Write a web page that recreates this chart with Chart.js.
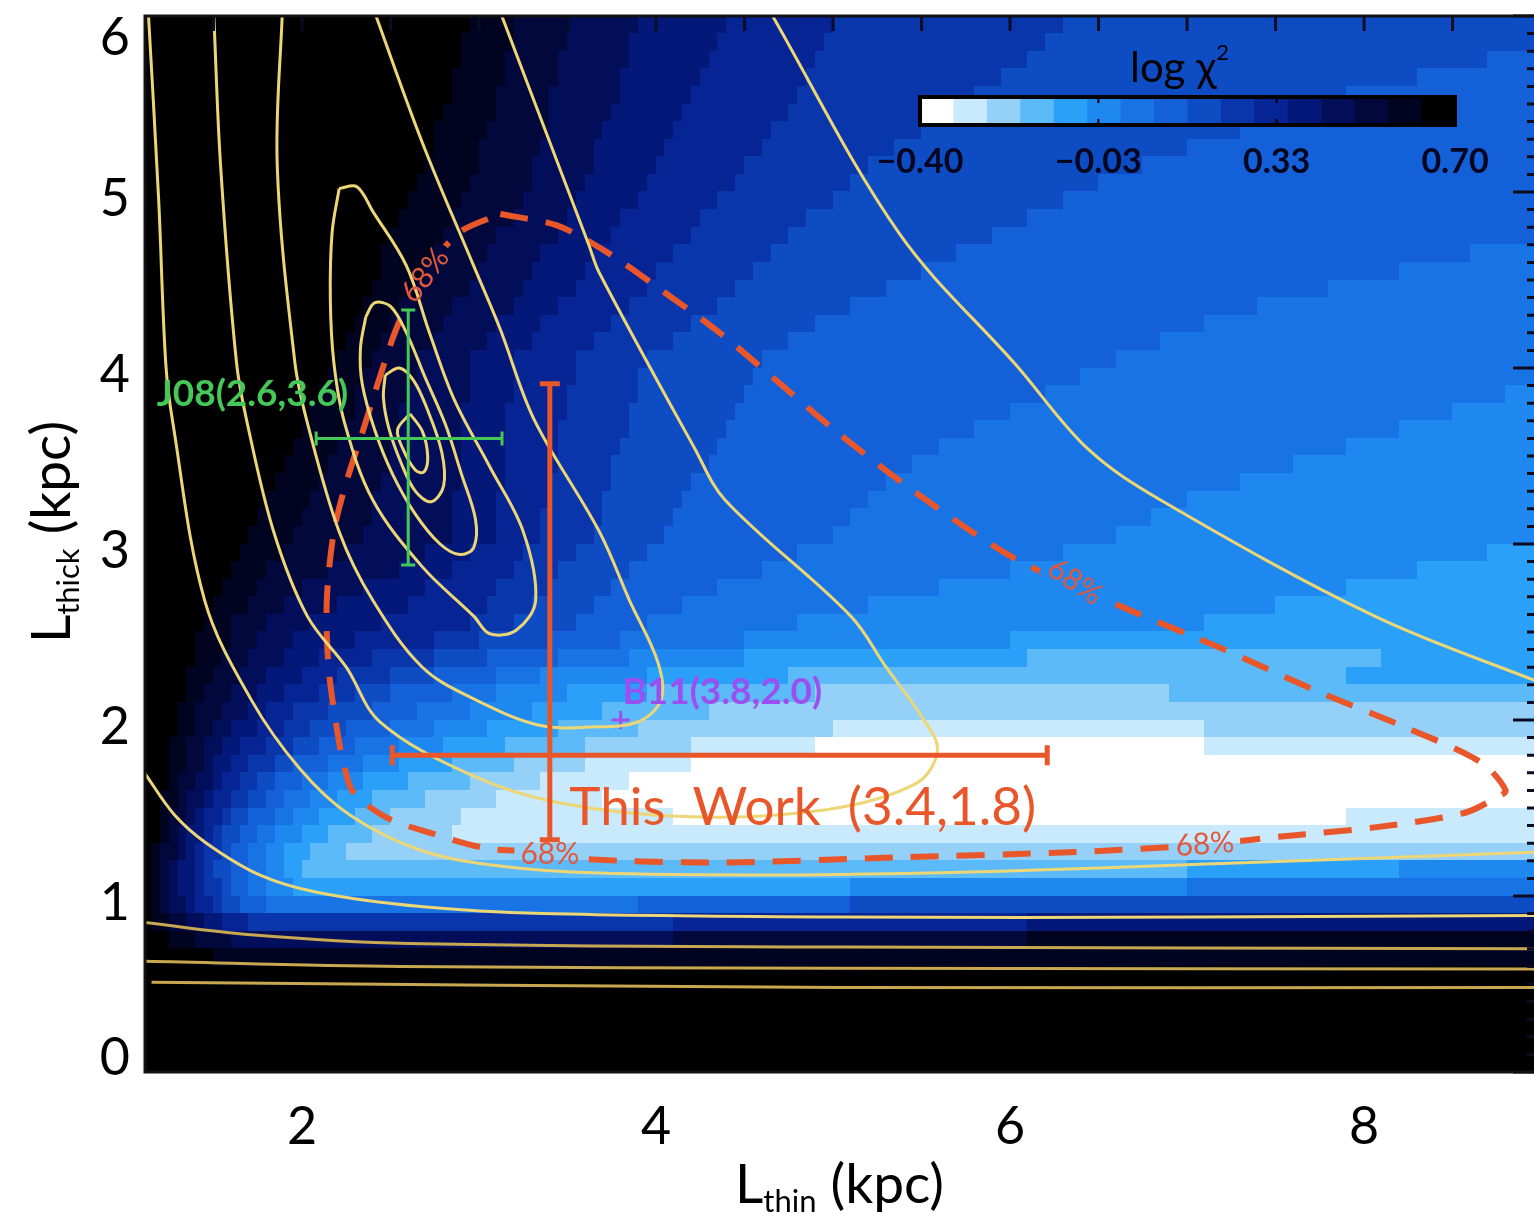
<!DOCTYPE html>
<html lang="en">
<head>
<meta charset="utf-8">
<title>log chi2 map: L_thin vs L_thick</title>
<script src="https://cdn.jsdelivr.net/npm/chart.js@4.4.1/dist/chart.umd.min.js"></script>
<style>
  html, body { margin: 0; padding: 0; background: #fff; overflow: hidden; }
  canvas { display: block; }
</style>
</head>
<body>
<canvas id="chi2" width="1534" height="1216"></canvas>
<script>
/* ── Axes ── */
const X_MIN = 1.113, X_MAX = 8.96;
const Y_MIN = 0, Y_MAX = 6;
const xTickVals = [2, 4, 6, 8];
const yTickVals = [0, 1, 2, 3, 4, 5, 6];

/* ── Colour bar: 16 bins of log chi^2 from -0.40 (white) to 0.70 (black) ── */
const cbTicks  = ['\u22120.40', '\u22120.03', '0.33', '0.70'];
const cbColors = ['#ffffff', '#c8eafc', '#94d0f8', '#5cbaf8', '#2aa0f8', '#1e88f0', '#1874e4', '#1460d8',
                  '#0e4cc4', '#0a36ac', '#062494', '#04187a', '#030e5a', '#02083c', '#010420', '#000000'];

/* ── log chi^2 map.
      One row per 0.1 kpc of L_thick, from 6.0 down to 0.
      Each token is "bin:L_thin where that colour-bar bin (hex 0..f) ends". ── */
const gridTop = 6.0, gridDY = 0.1, gridX0 = 1.1, gridX1 = 9.1, cellDX = 0.05;
const chiRows = [
  'f:2.95 e:3.2 d:3.5 c:3.9 b:4.4 a:5.0 9:6.3 8:9.1',                  // 5.95
  'f:2.92 e:3.18 d:3.48 c:3.87 b:4.35 a:4.95 9:6.2 8:9.1',
  'f:2.89 e:3.16 d:3.46 c:3.84 b:4.3 a:4.9 9:6.1 8:8.7 7:9.1',
  'f:2.86 e:3.14 d:3.44 c:3.81 b:4.26 a:4.85 9:5.95 8:8.3 7:9.1',
  'f:2.83 e:3.11 d:3.42 c:3.78 b:4.21 a:4.8 9:5.8 8:7.9 7:9.1',
  'f:2.8 e:3.08 d:3.4 c:3.74 b:4.16 a:4.73 9:5.65 8:7.6 7:9.1',
  'f:2.77 e:3.05 d:3.38 c:3.7 b:4.11 a:4.66 9:5.5 8:7.3 7:9.1',
  'f:2.73 e:3.02 d:3.35 c:3.66 b:4.06 a:4.59 9:5.35 8:7.0 7:9.1',
  'f:2.69 e:2.99 d:3.32 c:3.63 b:4.0 a:4.52 9:5.22 8:6.75 7:9.1',
  'f:2.65 e:2.95 d:3.3 c:3.6 b:3.95 a:4.45 9:5.1 8:6.5 7:9.1',        // 5.05
  'f:2.6 e:2.9 d:3.24 c:3.54 b:3.88 a:4.36 9:4.98 8:6.3 7:9.1',
  'f:2.56 e:2.85 d:3.18 c:3.48 b:3.81 a:4.27 9:4.87 8:6.1 7:9.1',
  'f:2.52 e:2.79 d:3.12 c:3.43 b:3.74 a:4.19 9:4.76 8:5.9 7:9.1',
  'f:2.47 e:2.74 d:3.06 c:3.37 b:3.67 a:4.11 9:4.65 8:5.7 7:8.6 6:9.1',
  'f:2.43 e:2.68 d:3.0 c:3.31 b:3.6 a:4.02 9:4.54 8:5.5 7:8.2 6:9.1',
  'f:2.38 e:2.63 d:2.94 c:3.25 b:3.53 a:3.93 9:4.44 8:5.3 7:7.8 6:9.1',
  'f:2.34 e:2.57 d:2.87 c:3.19 b:3.45 a:3.84 9:4.33 8:5.1 7:7.4 6:9.1',
  'f:2.29 e:2.51 d:2.8 c:3.12 b:3.37 a:3.74 9:4.2 8:4.9 7:7.1 6:9.1',
  'f:2.25 e:2.46 d:2.73 c:3.04 b:3.29 a:3.65 9:4.08 8:4.75 7:6.85 6:9.1',
  'f:2.2 e:2.4 d:2.65 c:2.95 b:3.2 a:3.55 9:3.95 8:4.6 7:6.6 6:9.1',  // 4.05
  'f:2.15 e:2.36 d:2.63 c:2.94 b:3.19 a:3.53 9:3.92 8:4.55 7:6.4 6:9.1',
  'f:2.1 e:2.32 d:2.6 c:2.93 b:3.18 a:3.51 9:3.89 8:4.5 7:6.2 6:8.8 5:9.1',
  'f:2.05 e:2.28 d:2.57 c:2.92 b:3.17 a:3.49 9:3.86 8:4.45 7:6.0 6:8.5 5:9.1',
  'f:2.0 e:2.24 d:2.54 c:2.91 b:3.16 a:3.47 9:3.83 8:4.4 7:5.8 6:8.2 5:9.1',
  'f:1.95 e:2.2 d:2.51 c:2.9 b:3.15 a:3.45 9:3.8 8:4.35 7:5.6 6:7.9 5:9.1',
  'f:1.9 e:2.15 d:2.48 c:2.89 b:3.14 a:3.43 9:3.77 8:4.3 7:5.45 6:7.6 5:9.1',
  'f:1.85 e:2.1 d:2.45 c:2.88 b:3.13 a:3.41 9:3.74 8:4.22 7:5.3 6:7.3 5:9.1',
  'f:1.8 e:2.05 d:2.42 c:2.87 b:3.12 a:3.39 9:3.71 8:4.15 7:5.2 6:7.0 5:9.1',
  'f:1.75 e:2.0 d:2.38 c:2.86 b:3.11 a:3.37 9:3.68 8:4.1 7:5.1 6:6.8 5:9.1',
  'f:1.7 e:1.95 d:2.35 c:2.85 b:3.1 a:3.35 9:3.65 8:4.05 7:5.0 6:6.6 5:9.1',   // 3.05
  'f:1.65 e:1.88 d:2.24 c:2.69 b:2.97 a:3.27 9:3.56 8:3.95 7:4.8 6:6.3 5:8.7 4:9.1',
  'f:1.6 e:1.81 d:2.13 c:2.53 b:2.84 a:3.19 9:3.47 8:3.85 7:4.6 6:6.0 5:8.3 4:9.1',
  'f:1.55 e:1.75 d:2.02 c:2.37 b:2.71 a:3.11 9:3.38 8:3.75 7:4.35 6:5.6 5:7.9 4:9.1',
  'f:1.5 e:1.68 d:1.91 c:2.21 b:2.58 a:3.03 9:3.29 8:3.65 7:4.15 6:5.2 5:7.5 4:9.1',
  'f:1.45 e:1.62 d:1.8 c:2.05 b:2.45 a:2.95 9:3.2 8:3.55 7:3.95 6:4.8 5:7.1 4:9.1',
  'f:1.42 e:1.58 d:1.75 c:1.97 b:2.32 a:2.75 9:3.02 8:3.38 7:3.78 6:4.5 5:6.0 4:9.1',
  'f:1.39 e:1.54 d:1.7 c:1.88 b:2.12 a:2.42 9:2.76 8:3.05 7:3.45 6:3.85 5:4.5 4:6.1 3:8.1 4:9.1',
  'f:1.36 e:1.5 d:1.65 c:1.81 b:2.0 a:2.22 9:2.5 8:2.75 7:3.1 6:3.35 5:3.95 4:4.75 3:7.9 4:9.1',
  'f:1.33 e:1.46 d:1.6 c:1.75 b:1.9 a:2.08 9:2.3 8:2.52 7:2.85 6:3.1 5:3.5 4:3.95 3:4.9 2:6.9 3:9.1',
  'f:1.3 e:1.42 d:1.55 c:1.68 b:1.82 a:1.97 9:2.15 8:2.38 7:2.65 6:2.95 5:3.3 4:3.7 3:4.3 2:9.1', // 2.05
  'f:1.28 e:1.39 d:1.5 c:1.62 b:1.74 a:1.88 9:2.04 8:2.24 7:2.48 6:2.75 5:3.05 4:3.45 3:3.9 2:5.0 1:7.1 2:9.1',
  'f:1.26 e:1.36 d:1.46 c:1.56 b:1.67 a:1.79 9:1.93 8:2.1 7:2.3 6:2.55 5:2.82 4:3.15 3:3.6 2:4.2 1:4.9 0:7.1 1:9.1',
  'f:1.25 e:1.34 d:1.43 c:1.52 b:1.61 a:1.71 9:1.83 8:1.97 7:2.13 6:2.33 5:2.55 4:2.85 3:3.2 2:3.6 1:4.2 0:9.1',
  'f:1.24 e:1.32 d:1.4 c:1.48 b:1.56 a:1.65 9:1.75 8:1.87 7:2.0 6:2.17 5:2.37 4:2.6 3:2.95 2:3.35 1:3.85 0:9.1',
  'f:1.22 e:1.3 d:1.37 c:1.44 b:1.51 a:1.59 9:1.68 8:1.78 7:1.9 6:2.04 5:2.22 4:2.42 3:2.72 2:3.1 1:3.7 0:9.1',
  'f:1.2 e:1.27 d:1.33 c:1.4 b:1.47 a:1.54 9:1.62 8:1.72 7:1.83 6:1.96 5:2.11 4:2.28 3:2.52 2:2.9 1:4.1 0:7.9 1:9.1',
  'f:1.18 e:1.24 d:1.3 c:1.36 b:1.43 a:1.5 9:1.57 8:1.65 7:1.75 6:1.87 5:2.0 4:2.17 3:2.4 2:2.85 1:9.1',
  'f:1.16 e:1.22 d:1.28 c:1.34 b:1.4 a:1.46 9:1.53 8:1.6 7:1.69 6:1.79 5:1.9 4:2.04 3:2.25 2:9.1',
  'f:1.14 e:1.2 d:1.26 c:1.32 b:1.38 a:1.45 9:1.52 8:1.6 7:1.68 6:1.78 5:1.88 4:2.0 3:7.0 4:8.2 5:9.1',
  'f:1.14 e:1.2 d:1.26 c:1.32 b:1.38 a:1.45 9:1.53 8:1.6 7:1.7 6:1.82 5:1.95 4:5.1 5:7.0 6:9.1', // 1.05
  'f:1.14 e:1.2 d:1.26 c:1.33 b:1.4 a:1.48 9:1.56 8:1.66 7:1.78 6:3.9 7:5.1 8:9.1',
  'f:1.16 e:1.25 d:1.35 c:1.45 b:1.55 a:1.7 9:4.1 a:6.1 b:9.1',
  'f:1.25 e:1.4 d:1.6 c:4.1 d:6.1 e:9.1',
  'f:1.5 e:9.1',
  'f:9.1', 'f:9.1', 'f:9.1', 'f:9.1', 'f:9.1', 'f:9.1',
];

/* ── chi^2 contours (L_thin, L_thick) ── */
const contour1 = [[2.61,3.74],[2.68,3.64],[2.71,3.50],[2.69,3.41],[2.64,3.42],[2.57,3.54],[2.54,3.65],[2.61,3.74]];
const contour2 = [[2.47,3.96],[2.55,4.00],[2.63,3.93],[2.71,3.76],[2.79,3.52],[2.80,3.33],[2.73,3.24],[2.64,3.30],
                  [2.56,3.46],[2.49,3.66],[2.46,3.83],[2.47,3.96]];
const contour3 = [[2.36,4.29],[2.41,4.37],[2.50,4.35],[2.59,4.20],[2.69,3.96],[2.81,3.68],[2.90,3.40],[2.98,3.14],
                  [2.97,2.98],[2.89,2.94],[2.78,3.00],[2.64,3.17],[2.51,3.40],[2.41,3.65],[2.34,3.91],[2.33,4.11],[2.36,4.29]];
const contour4 = [[2.21,5.02],[2.31,5.03],[2.40,4.89],[2.59,4.58],[2.72,4.20],[2.86,3.82],[3.06,3.44],[3.25,3.07],
                  [3.32,2.68],[3.21,2.51],[3.06,2.49],[2.97,2.59],[2.68,2.87],[2.40,3.25],[2.24,3.69],[2.18,4.03],
                  [2.16,4.39],[2.17,4.77],[2.21,5.02]];
const contour5 = [[1.89,6.05],[1.86,5.15],[1.96,4.03],[2.03,3.69],[2.21,3.07],[2.40,2.68],[2.68,2.30],[2.97,2.12],
                  [3.34,1.97],[3.62,1.96],[3.90,1.99],[4.03,2.12],[4.01,2.33],[3.85,2.68],[3.68,3.07],[3.31,3.71],
                  [3.12,4.22],[2.97,4.58],[2.68,5.28],[2.40,6.05]];
const contour6 = [[1.50,6.05],[1.54,5.15],[1.63,4.03],[1.69,3.69],[1.84,3.07],[2.03,2.59],[2.25,2.30],[2.44,1.99],
                  [2.95,1.69],[3.45,1.53],[4.20,1.45],[4.96,1.49],[5.47,1.64],[5.59,1.83],[5.50,2.02],[5.30,2.30],
                  [5.10,2.59],[4.39,3.25],[4.22,3.54],[3.68,4.54],[3.62,4.70],[3.11,6.05]];
const contour7a = [[1.13,6.05],[1.19,4.96],[1.23,4.03],[1.27,3.69],[1.45,2.68],[1.71,2.12],[1.99,1.72],[2.27,1.46],
                   [2.67,1.26],[3.12,1.17],[3.68,1.13],[4.81,1.12],[5.94,1.14],[7.07,1.18],[9.00,1.25]];
const contour7b = [[4.63,6.05],[5.37,4.77],[6.04,4.01],[6.44,3.54],[6.85,3.25],[8.06,2.59],[9.00,2.21]];
const contour8  = [[1.11,1.70],[1.28,1.46],[1.46,1.30],[1.76,1.12],[2.09,1.02],[2.67,0.94],[3.36,0.90],[5.04,0.88],
                   [7.07,0.88],[9.00,0.89]];
const contour9  = [[1.11,0.85],[1.71,0.78],[2.60,0.73],[5.04,0.71],[9.00,0.70]];
const contour10 = [[1.11,0.63],[2.55,0.60],[5.04,0.59],[9.00,0.585]];
const contour11 = [[1.15,0.51],[5.04,0.48],[9.00,0.48]];

/* ── 68% confidence region of this work ── */
const conf68 = [[3.12,4.875],[3.44,4.81],[3.72,4.66],[4.02,4.45],[4.36,4.20],[4.69,3.92],[5.03,3.63],[5.47,3.29],
                [6.04,2.91],[6.71,2.61],[7.21,2.40],[7.72,2.17],[8.23,1.96],[8.66,1.76],[8.80,1.60],[8.75,1.56],
                [8.56,1.47],[8.06,1.39],[7.55,1.34],[7.08,1.29],[6.37,1.25],[5.37,1.22],[4.36,1.19],[3.60,1.21],
                [3.38,1.25],[3.05,1.27],[2.72,1.36],[2.47,1.45],[2.29,1.59],[2.24,1.73],[2.20,1.93],[2.15,2.30],
                [2.14,2.68],[2.18,3.07],[2.25,3.35],[2.34,3.63],[2.44,3.95],[2.54,4.24],[2.68,4.52],[2.89,4.77],[3.12,4.875]];
const conf68Labels = [[2.69, 4.53, -53], [6.37, 2.79, 34], [3.40, 1.245, 0], [7.10, 1.30, -4]];

/* ── literature values: [x, y, xlo, xhi, ylo, yhi] ── */
const j08      = [2.6, 3.6, 2.08, 3.13, 2.88, 4.33];
const thisWork = [3.4, 1.8, 2.51, 6.21, 1.32, 3.91];
const b11      = [3.8, 2.0];

/* ── Style ── */
const FONT   = "Lato, 'Open Sans', 'DejaVu Sans', sans-serif";
const YELLOW = '#ecd676';
const GOLD   = '#c8a850';
const RED    = '#e8562a';
const GREEN  = '#46c858';
const PURPLE = '#9c4ff0';

Chart.defaults.font.family = FONT;

const pts = arr => arr.map(([x, y]) => ({ x, y }));
const contourSet = (arr, color) => ({
  data: pts(arr), showLine: true, borderColor: color, borderWidth: 3,
  pointRadius: 0, tension: 0.35, fill: false,
});

function decodeRow(s) {
  return s.trim().split(/\s+/).map(tok => {
    const [lv, end] = tok.split(':');
    return [parseInt(lv, 16), parseFloat(end)];
  });
}
function binAt(runs, xc) {
  for (const [lv, end] of runs) if (xc < end) return lv;
  return runs[runs.length - 1][0];
}

/* ── heat map under the contours ── */
const mapLayer = {
  id: 'mapLayer',
  beforeDatasetsDraw(chart) {
    const { ctx, chartArea: a, scales: { x, y } } = chart;
    const nCol = Math.round((gridX1 - gridX0) / cellDX);
    ctx.save();
    ctx.beginPath(); ctx.rect(a.left, a.top, a.width, a.height); ctx.clip();
    chiRows.forEach((row, r) => {
      const runs = decodeRow(row);
      const y0 = Math.floor(y.getPixelForValue(gridTop - r * gridDY));
      const y1 = Math.ceil(y.getPixelForValue(gridTop - (r + 1) * gridDY));
      for (let c = 0; c < nCol; c++) {
        const xl = gridX0 + c * cellDX;
        const x0 = Math.floor(x.getPixelForValue(xl));
        const x1 = Math.ceil(x.getPixelForValue(xl + cellDX));
        ctx.fillStyle = cbColors[binAt(runs, xl + cellDX / 2)];
        ctx.fillRect(x0, y0, x1 - x0 + 1, y1 - y0 + 1);
      }
    });
    ctx.restore();
  },
};

/* ── cut the dashed 68% line where its labels sit ── */
const RED_INDEX = 13;
function labelBoxes(ctx, x, y) {
  ctx.font = `30px ${FONT}`;
  const w = ctx.measureText('68%').width + 12, h = 28;
  conf68Labels.forEach(([lx, ly, ang]) => {
    const px = x.getPixelForValue(lx), py = y.getPixelForValue(ly);
    const c = Math.cos(ang * Math.PI / 180), s = Math.sin(ang * Math.PI / 180);
    [[-w / 2, -h / 2], [w / 2, -h / 2], [w / 2, h / 2], [-w / 2, h / 2]].forEach(([u, v], k) => {
      const X = px + u * c - v * s, Y = py + u * s + v * c;
      k ? ctx.lineTo(X, Y) : ctx.moveTo(X, Y);
    });
    ctx.closePath();
  });
}
const conf68Gaps = {
  id: 'conf68Gaps',
  beforeDatasetDraw(chart, args) {
    if (args.index !== RED_INDEX) return;
    const { ctx, chartArea: a, scales: { x, y } } = chart;
    ctx.save();
    ctx.beginPath();
    ctx.rect(a.left, a.top, a.width, a.height);
    labelBoxes(ctx, x, y);
    ctx.clip('evenodd');
  },
  afterDatasetDraw(chart, args) {
    if (args.index !== RED_INDEX) return;
    chart.ctx.restore();
  },
};

function errorBar(ctx, x, y, e, color, lw, cap) {
  const [cx, cy, xlo, xhi, ylo, yhi] = e;
  const px = x.getPixelForValue(cx), py = y.getPixelForValue(cy);
  const l = x.getPixelForValue(xlo), r = x.getPixelForValue(xhi);
  const t = y.getPixelForValue(yhi), b = y.getPixelForValue(ylo);
  ctx.strokeStyle = color; ctx.lineWidth = lw; ctx.lineCap = 'butt';
  ctx.beginPath();
  ctx.moveTo(l, py); ctx.lineTo(r, py);
  ctx.moveTo(px, t); ctx.lineTo(px, b);
  ctx.moveTo(l, py - cap); ctx.lineTo(l, py + cap);
  ctx.moveTo(r, py - cap); ctx.lineTo(r, py + cap);
  ctx.moveTo(px - cap, t); ctx.lineTo(px + cap, t);
  ctx.moveTo(px - cap, b); ctx.lineTo(px + cap, b);
  ctx.stroke();
}

/* ── error bars and in-plot labels ── */
const overlay = {
  id: 'overlay',
  afterDatasetsDraw(chart) {
    const { ctx, chartArea: a, scales: { x, y } } = chart;
    ctx.save();
    ctx.beginPath(); ctx.rect(a.left, a.top, a.width, a.height); ctx.clip();

    errorBar(ctx, x, y, j08, GREEN, 3, 7);
    errorBar(ctx, x, y, thisWork, RED, 5, 10);

    ctx.textBaseline = 'middle';
    ctx.textAlign = 'left';
    ctx.font = `bold 37px ${FONT}`;
    ctx.fillStyle = GREEN;
    ctx.fillText('J08(2.6,3.6)', x.getPixelForValue(1.18), y.getPixelForValue(3.85));
    ctx.fillStyle = PURPLE;
    ctx.fillText('B11(3.8,2.0)', x.getPixelForValue(3.81), y.getPixelForValue(2.16));
    ctx.font = `53px ${FONT}`;
    ctx.fillStyle = RED;
    ctx.fillText('This  Work  (3.4,1.8)', x.getPixelForValue(3.51), y.getPixelForValue(1.50));

    ctx.font = `30px ${FONT}`;
    ctx.fillStyle = '#e2583e';
    ctx.textAlign = 'center';
    conf68Labels.forEach(([lx, ly, ang]) => {
      ctx.save();
      ctx.translate(x.getPixelForValue(lx), y.getPixelForValue(ly));
      ctx.rotate(ang * Math.PI / 180);
      ctx.fillText('68%', 0, 1);
      ctx.restore();
    });
    ctx.restore();
  },
};

function subText(ctx, parts) {
  // parts: [text, size, dy]; drawn centred on the current origin
  const widths = parts.map(([t, s]) => { ctx.font = `${s}px ${FONT}`; return ctx.measureText(t).width; });
  let cx = -widths.reduce((p, q) => p + q, 0) / 2;
  parts.forEach(([t, s, dy], k) => {
    ctx.font = `${s}px ${FONT}`;
    ctx.fillText(t, cx, dy);
    cx += widths[k];
  });
}

/* ── frame, inward ticks, tick labels, titles, colour bar ── */
const frame = {
  id: 'frame',
  afterDraw(chart) {
    const { ctx, chartArea: a, scales: { x, y } } = chart;
    ctx.save();

    // top axis: inward ticks every 0.5 kpc
    ctx.strokeStyle = '#0a0c24'; ctx.lineWidth = 3;
    ctx.beginPath();
    for (let v = 1.5; v < X_MAX; v += 0.5) {
      const px = x.getPixelForValue(v);
      ctx.moveTo(px, a.top); ctx.lineTo(px, a.top + 15);
    }
    ctx.stroke();
    // right axis: major every 1, minor every 0.1
    ctx.beginPath();
    for (let k = 0; k <= 60; k++) {
      const py = y.getPixelForValue(k / 10);
      const len = k % 10 === 0 ? 21 : 7;
      ctx.moveTo(a.right, py); ctx.lineTo(a.right - len, py);
    }
    ctx.stroke();

    // frame
    ctx.strokeStyle = '#111'; ctx.lineWidth = 3;
    ctx.beginPath();
    ctx.moveTo(a.right, a.top); ctx.lineTo(a.left, a.top);
    ctx.lineTo(a.left, a.bottom); ctx.lineTo(a.right, a.bottom);
    ctx.stroke();

    // tick labels
    ctx.fillStyle = '#000';
    ctx.font = `52px ${FONT}`;
    ctx.textBaseline = 'alphabetic';
    ctx.textAlign = 'center';
    xTickVals.forEach(v => ctx.fillText(String(v), x.getPixelForValue(v), a.bottom + 72));
    ctx.textAlign = 'right';
    yTickVals.forEach(v => {
      let py = y.getPixelForValue(v) + 6;
      if (v === Y_MAX) py += 15;
      if (v === Y_MIN) py -= 21;
      ctx.fillText(String(v), a.left - 15, py + 18);
    });

    // axis titles
    ctx.textAlign = 'left';
    ctx.save();
    ctx.translate((a.left + a.right) / 2, a.bottom + 131);
    subText(ctx, [['L', 55, 0], ['thin', 31, 9], [' (kpc)', 55, 0]]);
    ctx.restore();
    ctx.save();
    ctx.translate(70, 532);
    ctx.rotate(-Math.PI / 2);
    subText(ctx, [['L', 55, 0], ['thick', 31, 9], [' (kpc)', 55, 0]]);
    ctx.restore();

    // colour bar
    const cbL = a.left + 775, cbT = a.top + 81, cbW = 535, cbH = 28;
    cbColors.forEach((col, k) => {
      ctx.fillStyle = col;
      ctx.fillRect(cbL + k * cbW / 16, cbT, cbW / 16 + 1, cbH);
    });
    ctx.strokeStyle = '#000'; ctx.lineWidth = 4;
    ctx.strokeRect(cbL, cbT, cbW, cbH);
    ctx.lineWidth = 2;
    ctx.beginPath();
    [1, 2].forEach(k => {
      const px = cbL + k * cbW / 3;
      ctx.moveTo(px, cbT); ctx.lineTo(px, cbT + 6);
      ctx.moveTo(px, cbT + cbH); ctx.lineTo(px, cbT + cbH - 6);
    });
    ctx.stroke();
    ctx.fillStyle = '#020620';
    ctx.font = `bold 34px ${FONT}`;
    ctx.textAlign = 'center';
    cbTicks.forEach((t, k) => ctx.fillText(t, cbL + k * cbW / 3, cbT + 76));
    ctx.textAlign = 'left';
    ctx.fillStyle = '#000';
    ctx.save();
    ctx.translate(cbL + cbW / 2 - 8, cbT - 15);
    subText(ctx, [['log ', 42, 0], ['\u03c7', 42, 0], ['2', 22, -22]]);
    ctx.restore();

    ctx.restore();
  },
};

const axisX = {
  type: 'linear', min: X_MIN, max: X_MAX,
  grid: { display: false, drawTicks: false }, border: { display: false },
  ticks: { display: false },
  afterBuildTicks: s => { s.ticks = xTickVals.map(v => ({ value: v })); },
  afterFit: s => { s.height = 144; },
};
const axisY = {
  type: 'linear', min: Y_MIN, max: Y_MAX,
  grid: { display: false, drawTicks: false }, border: { display: false },
  ticks: { display: false },
  afterBuildTicks: s => { s.ticks = yTickVals.map(v => ({ value: v })); },
  afterFit: s => { s.width = 145; },
};

new Chart(document.getElementById('chi2').getContext('2d'), {
  type: 'scatter',
  data: {
    datasets: [
      contourSet(contour1, YELLOW),
      contourSet(contour2, YELLOW),
      contourSet(contour3, YELLOW),
      contourSet(contour4, YELLOW),
      contourSet(contour5, YELLOW),
      contourSet(contour6, YELLOW),
      contourSet(contour7a, YELLOW),
      contourSet(contour7b, YELLOW),
      contourSet(contour8, YELLOW),
      contourSet(contour9, GOLD),
      contourSet(contour10, GOLD),
      contourSet(contour11, GOLD),
      {
        label: 'B11',
        data: pts([b11]),
        pointStyle: 'cross', pointRadius: 9, borderWidth: 3,
        borderColor: PURPLE, backgroundColor: PURPLE, showLine: false,
      },
      {
        label: '68%',
        data: pts(conf68),
        showLine: true, borderColor: RED, borderWidth: 6,
        borderDash: [28, 18], pointRadius: 0, tension: 0.3, fill: false,
      },
    ],
  },
  options: {
    responsive: false,
    devicePixelRatio: 1,
    animation: false,
    events: [],
    layout: { autoPadding: false, padding: { top: 16, right: 0, left: 0, bottom: 0 } },
    plugins: { legend: { display: false }, tooltip: { enabled: false } },
    scales: { x: axisX, y: axisY },
  },
  plugins: [mapLayer, conf68Gaps, overlay, frame],
});
</script>
</body>
</html>
